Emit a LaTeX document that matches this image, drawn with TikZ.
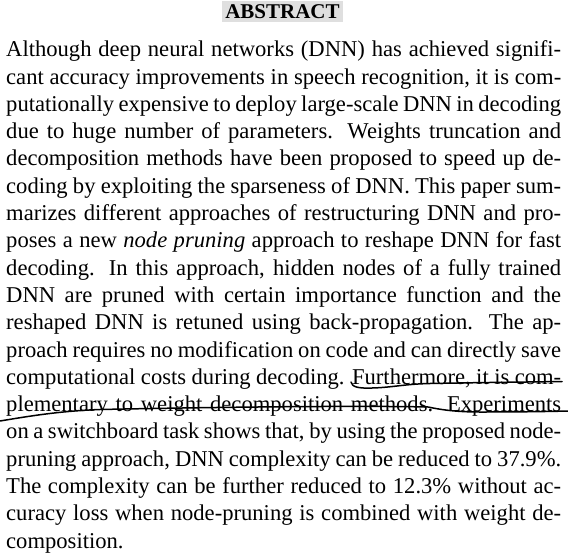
\documentclass[tikz,border=0pt]{standalone}
\usepackage{fontspec}
\setmainfont{Liberation Serif}
\usetikzlibrary{positioning}
\tikzset{
  abstract page/.style = {
    x = 1pt, y = 1pt,
    % Строка текста
    txt line/.style  = {anchor=base west, inner sep=0pt,
                        font=\fontsize{22.6}{27}\selectfont},
    % Заголовок
    title box/.style = {fill=gray!25, inner xsep=3.5pt, inner ysep=3.5pt,
                        font=\fontsize{21}{24}\selectfont\bfseries},
    % Пометки от руки
    pen line/.style  = {line width=1.5pt, line cap=round, black},
  }
}

\begin{document}
\begin{tikzpicture}[abstract page]

  \fill[white] (0,0) rectangle (568,-557);
  \useasboundingbox (0,0) rectangle (568,-557);

  \node[title box, anchor=base] (title) at (282.5,-18.3) {ABSTRACT};

  \foreach \t [count=\i] in {
      {Although deep neural networks (DNN) has achieved signifi-},
      {cant accuracy improvements in speech recognition, it is com-},
      {putationally expensive to deploy large-scale DNN in decoding},
      {due to huge number of parameters. Weights truncation and},
      {decomposition methods have been proposed to speed up de-},
      {coding by exploiting the sparseness of DNN. This paper sum-},
      {marizes different approaches of restructuring DNN and pro-},
      {poses a new \textit{node pruning} approach to reshape DNN for fast},
      {decoding. In this approach, hidden nodes of a fully trained},
      {DNN are pruned with certain importance function and the},
      {reshaped DNN is retuned using back-propagation. The ap-},
      {proach requires no modification on code and can directly save},
      {computational costs during decoding. Furthermore, it is com-},
      {plementary to weight decomposition methods. Experiments},
      {on a switchboard task shows that, by using the proposed node-},
      {pruning approach, DNN complexity can be reduced to 37.9\%.},
      {The complexity can be further reduced to 12.3\% without ac-},
      {curacy loss when node-pruning is combined with weight de-}}
    \node[txt line] (line-\i) at (6,{-29.4-27.3*\i})
      {\hbox to 555pt{\spaceskip=0.25em plus 0.4em minus 0.1em\t}};

  \node[txt line] (line-19) at (6,{-29.4-27.3*19}) {composition.};

  % подчёркивание
  \draw[pen line] (351,-382) .. controls (352,-387) and (358,-388.5) .. (372,-388)
     .. controls (392,-387.5) and (405,-384) .. (430,-383.5)
     .. controls (480,-382.5) and (530,-382) .. (562,-381.5);
  % зачёркивание
  \draw[pen line] (0,-421) .. controls (30,-416) and (60,-411) .. (100,-409.5)
     .. controls (220,-407) and (360,-405.5) .. (428,-407)
     .. controls (440,-409.5) and (455,-412) .. (480,-412)
     .. controls (520,-412) and (550,-411.5) .. (568,-411);

\end{tikzpicture}
\end{document}
